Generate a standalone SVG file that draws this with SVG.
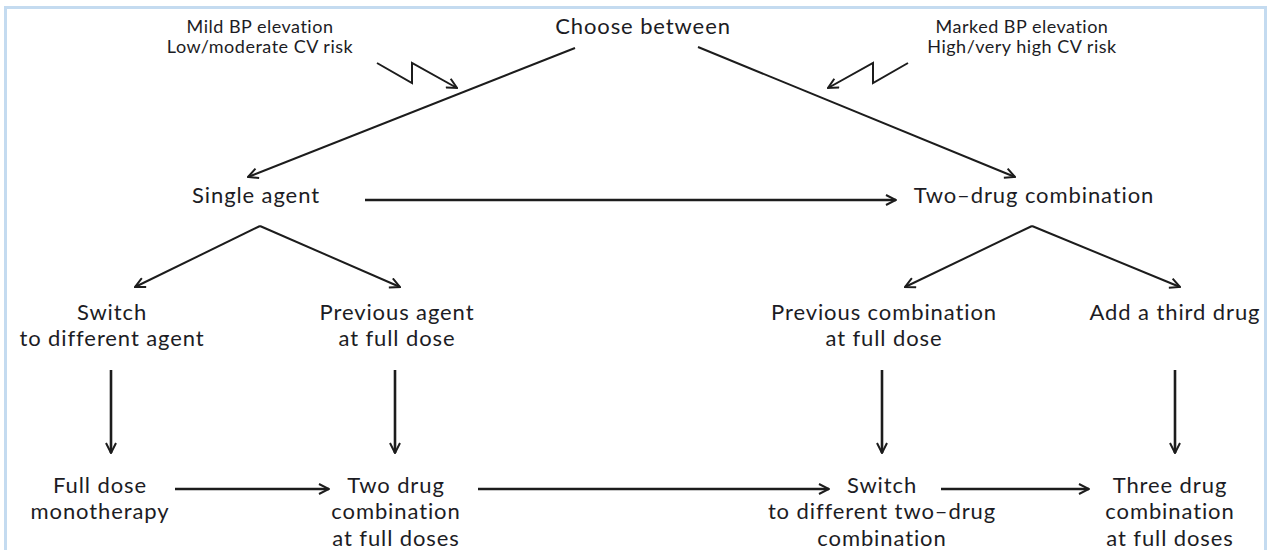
<svg xmlns="http://www.w3.org/2000/svg" width="1269" height="550" viewBox="0 0 1269 550">
<style>
text{font-family:Lato,"Open Sans","Liberation Sans",sans-serif;fill:#1c1c24;text-anchor:middle}
.t{font-size:22px;letter-spacing:0.9px}
.s{font-size:18px;letter-spacing:0.5px}
.c{fill:none;stroke:#1c1c1c;stroke-width:2}
.h{stroke-width:2.6}
</style>
<defs>
<marker id="ah" viewBox="0 0 12 12" refX="11" refY="6" markerWidth="12" markerHeight="12" markerUnits="userSpaceOnUse" orient="auto">
<path d="M1,1 L11,6 L1,11" fill="none" stroke="#1c1c1c" stroke-width="2"/>
</marker>
</defs>
<rect x="5.5" y="7.5" width="1260" height="560" fill="#fff" stroke="#c4dbf0" stroke-width="3"/>
<g id="connectors">
<path class="c" d="M377,63 L412,83 L412,63 L457,88" marker-end="url(#ah)"/>
<path class="c" d="M908,63 L873,83 L873,63 L828,88" marker-end="url(#ah)"/>
<line class="c" x1="575" y1="48" x2="248" y2="177" marker-end="url(#ah)"/>
<line class="c" x1="698" y1="47" x2="1015" y2="177" marker-end="url(#ah)"/>
<line class="c h" x1="365" y1="200" x2="896" y2="200" marker-end="url(#ah)"/>
<line class="c" x1="260" y1="226" x2="135" y2="287" marker-end="url(#ah)"/>
<line class="c" x1="260" y1="226" x2="400" y2="287" marker-end="url(#ah)"/>
<line class="c" x1="1032" y1="226" x2="905" y2="287" marker-end="url(#ah)"/>
<line class="c" x1="1032" y1="226" x2="1180" y2="287" marker-end="url(#ah)"/>
<line class="c h" x1="111" y1="370" x2="111" y2="453" marker-end="url(#ah)"/>
<line class="c h" x1="395" y1="370" x2="395" y2="453" marker-end="url(#ah)"/>
<line class="c h" x1="882" y1="370" x2="882" y2="453" marker-end="url(#ah)"/>
<line class="c h" x1="1175" y1="370" x2="1175" y2="453" marker-end="url(#ah)"/>
<line class="c h" x1="175" y1="489" x2="329" y2="489" marker-end="url(#ah)"/>
<line class="c h" x1="478" y1="489" x2="829" y2="489" marker-end="url(#ah)"/>
<line class="c h" x1="941" y1="489" x2="1089" y2="489" marker-end="url(#ah)"/>
</g>
<g id="mild"><text class="s" x="260" y="33">Mild BP elevation</text><text class="s" x="260" y="53">Low/moderate CV risk</text></g>
<g id="marked"><text class="s" x="1022" y="33">Marked BP elevation</text><text class="s" x="1022" y="53">High/very high CV risk</text></g>
<g id="choose"><text class="t" x="643" y="34">Choose between</text></g>
<g id="single"><text class="t" x="256" y="203">Single agent</text></g>
<g id="twodrug"><text class="t" x="1034" y="203">Two–drug combination</text></g>
<g id="switch1"><text class="t" x="112" y="320">Switch</text><text class="t" x="112" y="346">to different agent</text></g>
<g id="prevagent"><text class="t" x="397" y="320">Previous agent</text><text class="t" x="397" y="346">at full dose</text></g>
<g id="prevcomb"><text class="t" x="884" y="320">Previous combination</text><text class="t" x="884" y="346">at full dose</text></g>
<g id="third"><text class="t" x="1175" y="320">Add a third drug</text></g>
<g id="fulldose"><text class="t" x="100" y="493">Full dose</text><text class="t" x="100" y="519">monotherapy</text></g>
<g id="twodrugfull"><text class="t" x="396" y="493">Two drug</text><text class="t" x="396" y="519">combination</text><text class="t" x="396" y="546">at full doses</text></g>
<g id="switch2"><text class="t" x="882" y="493">Switch</text><text class="t" x="882" y="519">to different two–drug</text><text class="t" x="882" y="546">combination</text></g>
<g id="threedrug"><text class="t" x="1170" y="493">Three drug</text><text class="t" x="1170" y="519">combination</text><text class="t" x="1170" y="546">at full doses</text></g>
</svg>
